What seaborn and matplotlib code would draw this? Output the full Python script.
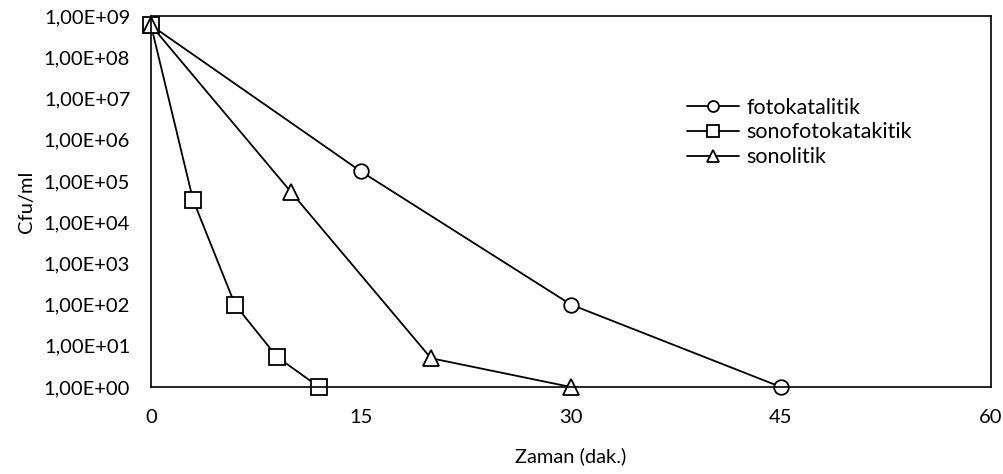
import math
import matplotlib
matplotlib.use("Agg")
import matplotlib.pyplot as plt
import seaborn as sns
import pandas as pd
from matplotlib.ticker import FixedLocator, FuncFormatter

sns.set_theme(style="white")
plt.rcParams['font.family'] = ['Lato', 'DejaVu Sans']

foto_x = [0, 15, 30, 45]
foto_y = [6e8, 1.7e5, 1e2, 1]
sonofoto_x = [0, 3, 6, 9, 12]
sonofoto_y = [6e8, 3.5e4, 1e2, 5.4, 1]
sono_x = [0, 10, 20, 30]
sono_y = [6e8, 5.4e4, 5, 1]

names = ["fotokatalitik", "sonofotokatakitik", "sonolitik"]
markers = ["o", "s", "^"]
msizes = [10.5, 12, 12]

fig = plt.figure(figsize=(10.04, 4.74), dpi=100)
ax = fig.add_axes([0.1504, 0.1835, 0.8366, 0.7825])

series = [(foto_x, foto_y), (sonofoto_x, sonofoto_y), (sono_x, sono_y)]
for (xs, ys), name, m, ms in zip(series, names, markers, msizes):
    df = pd.DataFrame({"x": xs, "y": ys})
    sns.lineplot(data=df, x="x", y="y", ax=ax, color="black", lw=1.3,
                 marker=m, markersize=ms, markerfacecolor="white",
                 markeredgecolor="black", markeredgewidth=1.3, label=name)

ax.set_yscale("log")
ax.set_ylim(1, 1e9)
ax.set_xlim(0, 60)
ax.xaxis.set_major_locator(FixedLocator([0, 15, 30, 45, 60]))
ax.yaxis.set_major_locator(FixedLocator([10.0**k for k in range(10)]))
ax.yaxis.set_minor_locator(FixedLocator([]))
ax.yaxis.set_major_formatter(FuncFormatter(lambda v, p: "1,00E+%02d" % round(math.log10(v))))
ax.tick_params(axis="both", length=0, labelsize=14.5, colors="black")
ax.tick_params(axis="y", pad=15)
ax.tick_params(axis="x", pad=16)
for s in ax.spines.values():
    s.set_color("black")
    s.set_linewidth(1.2)
ax.set_xlabel("Zaman (dak.)", fontsize=14.5, color="black", labelpad=15)
ax.set_ylabel("Cfu/ml", fontsize=14.5, color="black", labelpad=6)

leg = ax.legend(loc="upper left", bbox_to_anchor=(0.638, 0.78), frameon=False,
                fontsize=15.5, handlelength=2.4, handletextpad=0.35,
                labelspacing=0.22, borderpad=0, borderaxespad=0, markerscale=0.75)
for t in leg.get_texts():
    t.set_color("black")

for line in ax.get_lines():
    line.set_clip_on(False)

fig.savefig("out.png", dpi=100)
